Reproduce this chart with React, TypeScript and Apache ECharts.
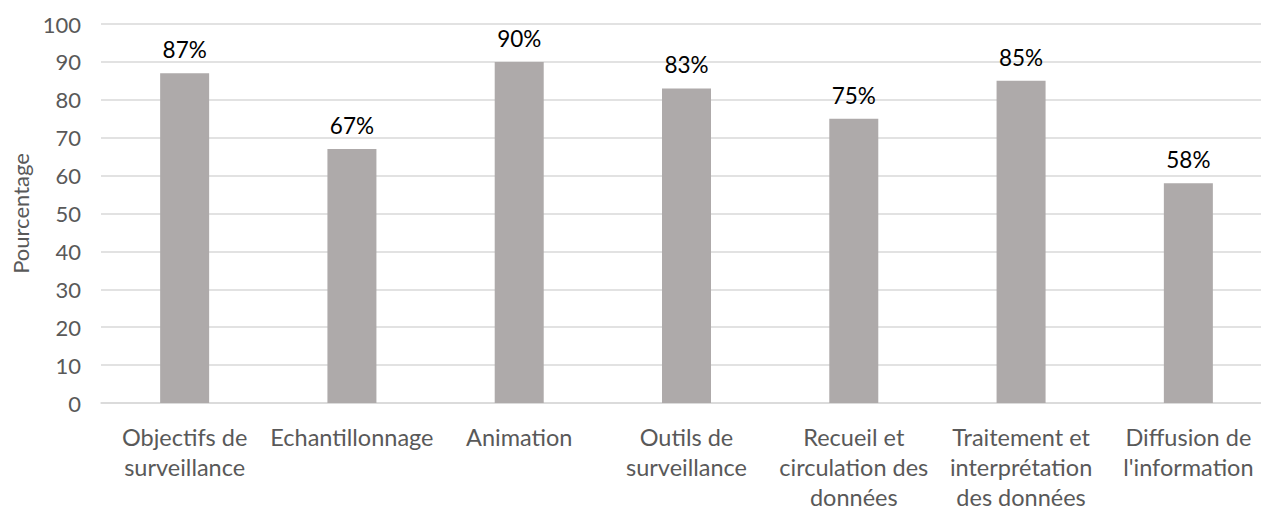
import React, { useEffect, useRef } from "react";
import * as echarts from "echarts";

const categories: string[] = [
  "Objectifs de\nsurveillance",
  "Echantillonnage",
  "Animation",
  "Outils de\nsurveillance",
  "Recueil et\ncirculation des\ndonnées",
  "Traitement et\ninterprétation\ndes données",
  "Diffusion de\nl'information",
];

const percentages: number[] = [87, 67, 90, 83, 75, 85, 58];

const yTicks = { min: 0, max: 100, interval: 10 };
const yTitle = "Pourcentage";

const FONT = "Lato, 'Open Sans', sans-serif";

export default function App() {
  const ref = useRef<HTMLDivElement>(null);

  useEffect(() => {
    document.body.style.margin = "0";
    document.body.style.overflow = "hidden";
    if (!ref.current) return;
    const chart = echarts.init(ref.current, undefined, { renderer: "svg" });
    chart.setOption({
      animation: false,
      backgroundColor: "#ffffff",
      textStyle: { fontFamily: FONT },
      grid: {
        left: 101,
        right: 18,
        top: 24,
        bottom: 103,
        containLabel: false,
        outerBoundsMode: "none",
      },
      xAxis: {
        type: "category",
        data: categories,
        axisLine: { show: true, lineStyle: { color: "#D9D9D9", width: 1.5 } },
        axisTick: { show: false },
        axisLabel: {
          interval: 0,
          fontFamily: FONT,
          fontSize: 23.5,
          lineHeight: 30,
          color: "#595959",
          margin: 19,
        },
      },
      yAxis: {
        type: "value",
        min: yTicks.min,
        max: yTicks.max,
        interval: yTicks.interval,
        name: yTitle,
        nameLocation: "middle",
        nameGap: 68,
        nameTextStyle: { fontFamily: FONT, fontSize: 22, color: "#595959" },
        axisLine: { show: false },
        axisTick: { show: false },
        axisLabel: { fontFamily: FONT, fontSize: 22, color: "#595959", margin: 20 },
        splitLine: { lineStyle: { color: "#D9D9D9", width: 1.5 } },
      },
      series: [
        {
          type: "bar",
          data: percentages,
          barWidth: 49,
          itemStyle: { color: "#AEAAAA" },
          label: {
            show: true,
            position: "top",
            distance: 12,
            formatter: "{c}%",
            fontFamily: FONT,
            fontSize: 22.5,
            color: "#000000",
          },
        },
      ],
    });
    return () => chart.dispose();
  }, []);

  return (
    <div
      style={{
        position: "fixed",
        left: 0,
        top: 0,
        width: 1261,
        height: 506,
        overflow: "hidden",
        background: "#ffffff",
      }}
    >
      <div ref={ref} style={{ width: 1290, height: 506 }} />
    </div>
  );
}
